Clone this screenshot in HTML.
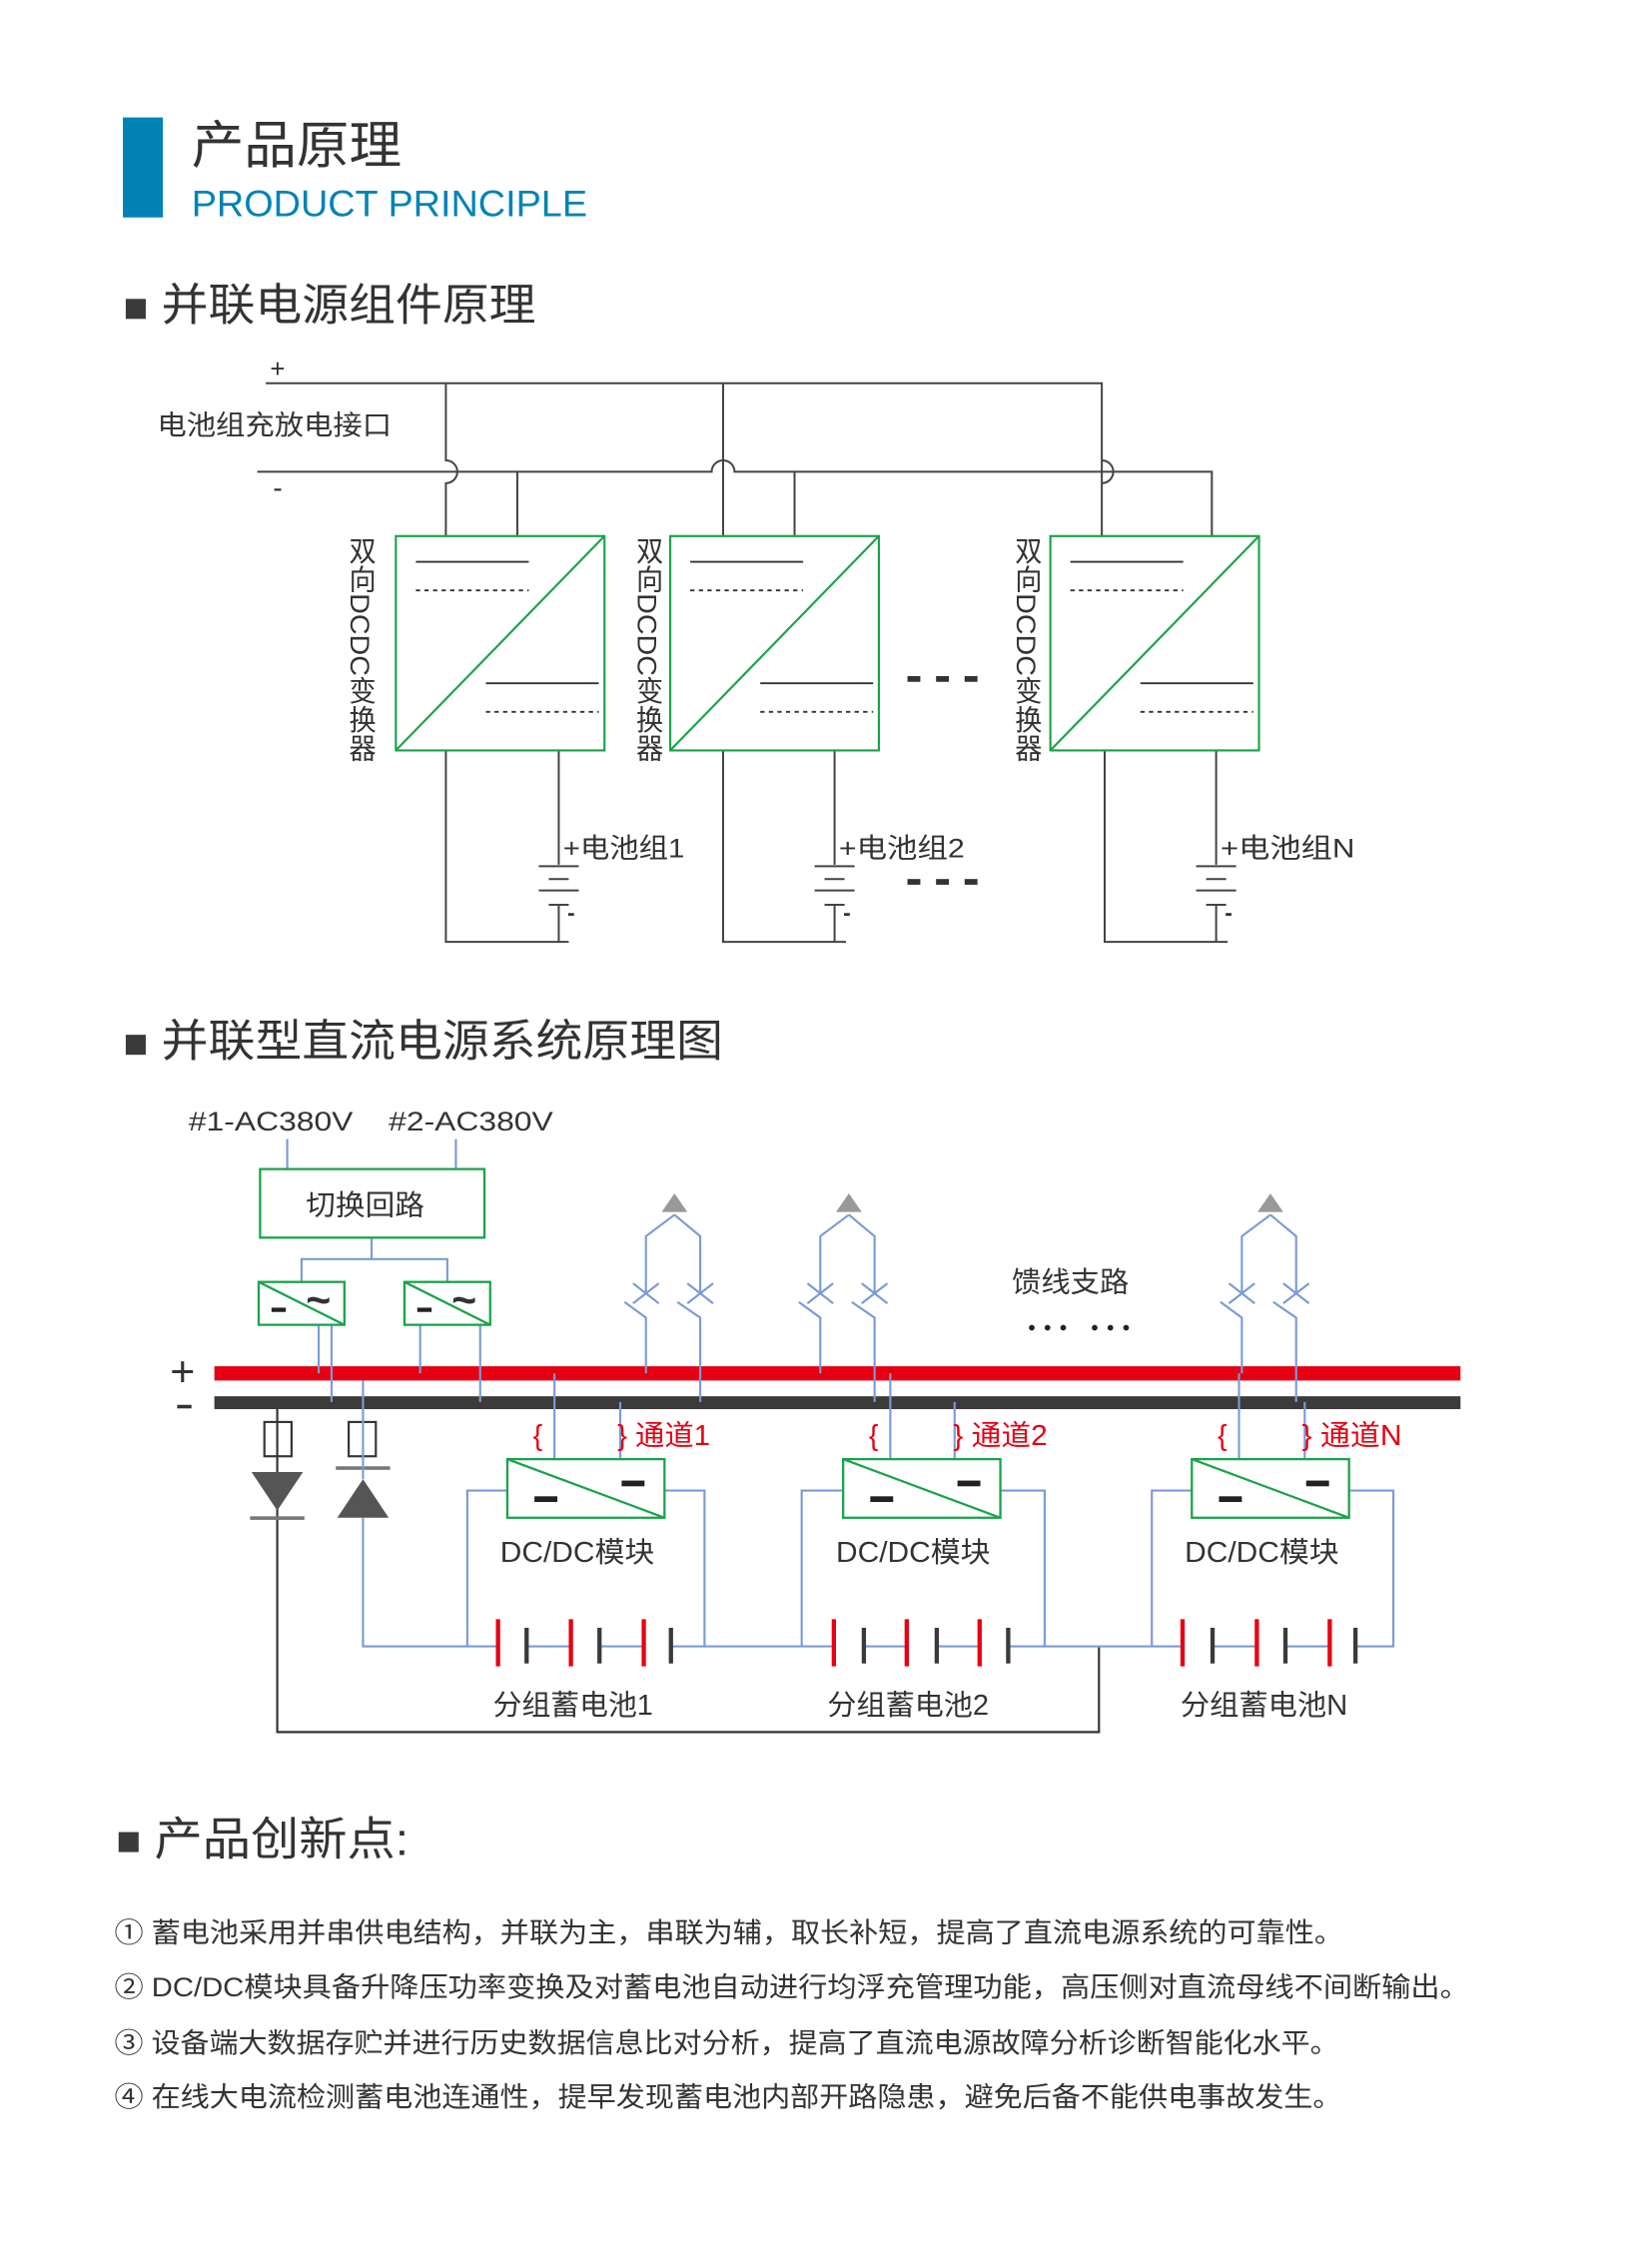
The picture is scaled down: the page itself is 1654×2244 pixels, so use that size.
<!DOCTYPE html>
<html><head><meta charset="utf-8">
<style>
html,body{margin:0;padding:0;background:#fff;}
svg{display:block;}
text{font-family:"Liberation Sans","Noto Sans CJK SC",sans-serif;fill:#333;}
.vt{writing-mode:vertical-rl;text-orientation:mixed;}
</style></head><body>
<svg width="1654" height="2244" viewBox="0 0 1156 1568" xmlns="http://www.w3.org/2000/svg">
<rect x="0" y="0" width="1156" height="1568" fill="#fff"/>
<!-- header -->
<rect x="86" y="82" width="28" height="70" fill="#0083b4"/>
<text x="134" y="114" font-size="36" fill="#3a3a3a" textLength="147" lengthAdjust="spacingAndGlyphs">产品原理</text>
<text x="134" y="151" font-size="26" style="fill:#0083b4" textLength="277" lengthAdjust="spacingAndGlyphs">PRODUCT PRINCIPLE</text>
<rect x="88" y="209" width="14" height="14" fill="#3a3a3a"/>
<text x="113" y="224" font-size="31" textLength="262" lengthAdjust="spacingAndGlyphs">并联电源组件原理</text>

<!-- top diagram -->
<g stroke="#444" stroke-width="1.4" fill="none">
<path d="M186 268 H771 V375"/>
<path d="M312 268 V322 a8 8 0 0 1 0 16 V375"/>
<path d="M506 268 V375"/>
<path d="M180 330 H498 a8 8 0 0 1 16 0 H848 V375"/>
<path d="M771 322 a8 8 0 0 1 0 16"/>
<path d="M362 330 V375 M556 330 V375"/>
</g>
<text x="189" y="264" font-size="18">+</text>
<text x="110" y="304" font-size="19" textLength="164" lengthAdjust="spacingAndGlyphs">电池组充放电接口</text>
<text x="191" y="348" font-size="20">-</text>

<g stroke="#444" stroke-width="1.4" fill="none">
<path d="M312 525 V659 H398 M391 525 V605 M391 633 V659"/>
<path d="M506 525 V659 H592 M584 525 V605 M584 633 V659"/>
<path d="M773 525 V659 H859 M851 525 V605 M851 633 V659"/>
<path d="M377 606 H405 M384 615 H398 M377 623 H405 M384 633 H398"/>
<path d="M570 606 H598 M577 615 H591 M570 623 H598 M577 633 H591"/>
<path d="M837 606 H865 M844 615 H858 M837 623 H865 M844 633 H858"/>
</g>
<g fill="none" stroke-width="1.5">
<g transform="translate(277,375)">
<rect x="0" y="0" width="146" height="150" stroke="#1aa34a"/>
<path d="M0 150 L146 0" stroke="#1aa34a"/>
<path d="M14 18 H93 M63 103 H142" stroke="#333" stroke-width="1.3"/>
<path d="M14 38 H93 M63 123 H142" stroke="#333" stroke-width="1.3" stroke-dasharray="3 3"/>
</g>
<g transform="translate(469,375)">
<rect x="0" y="0" width="146" height="150" stroke="#1aa34a"/>
<path d="M0 150 L146 0" stroke="#1aa34a"/>
<path d="M14 18 H93 M63 103 H142" stroke="#333" stroke-width="1.3"/>
<path d="M14 38 H93 M63 123 H142" stroke="#333" stroke-width="1.3" stroke-dasharray="3 3"/>
</g>
<g transform="translate(735,375)">
<rect x="0" y="0" width="146" height="150" stroke="#1aa34a"/>
<path d="M0 150 L146 0" stroke="#1aa34a"/>
<path d="M14 18 H93 M63 103 H142" stroke="#333" stroke-width="1.3"/>
<path d="M14 38 H93 M63 123 H142" stroke="#333" stroke-width="1.3" stroke-dasharray="3 3"/>
</g>
</g>
<text x="252" y="375" font-size="19" class="vt" textLength="158" lengthAdjust="spacingAndGlyphs">双向DCDC变换器</text>
<text x="453" y="375" font-size="19" class="vt" textLength="158" lengthAdjust="spacingAndGlyphs">双向DCDC变换器</text>
<text x="718" y="375" font-size="19" class="vt" textLength="158" lengthAdjust="spacingAndGlyphs">双向DCDC变换器</text>
<text x="394" y="600" font-size="19" textLength="85" lengthAdjust="spacingAndGlyphs">+电池组1</text>
<text x="587" y="600" font-size="19" textLength="88" lengthAdjust="spacingAndGlyphs">+电池组2</text>
<text x="854" y="600" font-size="19" textLength="94" lengthAdjust="spacingAndGlyphs">+电池组N</text>
<text x="397" y="644" font-size="16" font-weight="bold">-</text>
<text x="590" y="644" font-size="16" font-weight="bold">-</text>
<text x="857" y="644" font-size="16" font-weight="bold">-</text>
<g fill="#333"><rect x="635" y="473" width="9" height="4"/><rect x="655" y="473" width="9" height="4"/><rect x="675" y="473" width="9" height="4"/>
<rect x="635" y="615" width="9" height="4"/><rect x="655" y="615" width="9" height="4"/><rect x="675" y="615" width="9" height="4"/></g>

<!-- second heading -->
<rect x="88" y="724" width="14" height="14" fill="#3a3a3a"/>
<text x="113" y="739" font-size="31" textLength="393" lengthAdjust="spacingAndGlyphs">并联型直流电源系统原理图</text>

<text x="132" y="791" font-size="19" textLength="115" lengthAdjust="spacingAndGlyphs">#1-AC380V</text>
<text x="272" y="791" font-size="19" textLength="115" lengthAdjust="spacingAndGlyphs">#2-AC380V</text>

<!-- buses -->
<rect x="150" y="956" width="872" height="10" fill="#e60012"/>
<rect x="150" y="977" width="872" height="9" fill="#3d3a3a"/>
<text x="119" y="970" font-size="30">+</text>
<rect x="124" y="983" width="10" height="2.5" fill="#333"/>

<g stroke="#333" stroke-width="1.5" fill="none">
<path d="M194 986 V1212 H769 V1152"/>
<rect x="185" y="995" width="19" height="24"/>
<rect x="244" y="995" width="19" height="24" />
</g>
<path d="M176 1030 H212 L194 1057 Z" fill="#555"/>
<rect x="175" y="1061" width="38" height="2.5" fill="#777"/>
<path d="M236 1062 H272 L254 1035 Z" fill="#555"/>
<rect x="235" y="1026" width="38" height="2.5" fill="#777"/>

<g stroke="#7b9bd6" stroke-width="1.5" fill="none">
<path d="M201 797 V818 M319 797 V818"/>
<path d="M260 866 V881 M211 897 V881 H313 V897"/>
<path d="M223 927 V961 M232 927 V981 M294 927 V961 M336 927 V981"/>
<path d="M254 966 V1035 M254 1062 V1152 H348"/>
<path d="M388 961 V1021 M434 981 V1021 M623 961 V1021 M668 981 V1021 M867 961 V1021 M913 981 V1021"/>
<path d="M355 1043 H327 V1152 M465 1043 H493 V1152 H583 M590 1043 H561 V1152 M700 1043 H731 V1152 H828 M834 1043 H806 V1152 M944 1043 H975 V1152 H948"/>
<path d="M368 1152 H399 M419 1152 H450 M469 1152 H493"/>
<path d="M604 1152 H634 M655 1152 H685 M705 1152 H731"/>
<path d="M848 1152 H879 M899 1152 H930"/>
</g>
<g stroke="#7b9bd6" stroke-width="1.5" fill="none">
<g>
<path d="M472 850 L452 865 V905 M472 850 L490 865 V905"/>
<path d="M443 898 L461 912 M443 912 L461 898 M481 898 L499 912 M481 912 L499 898"/>
<path d="M437 911 L452 922 V961 M474 911 L490 922 V981"/>
</g>
<g transform="translate(122,0)">
<path d="M472 850 L452 865 V905 M472 850 L490 865 V905"/>
<path d="M443 898 L461 912 M443 912 L461 898 M481 898 L499 912 M481 912 L499 898"/>
<path d="M437 911 L452 922 V961 M474 911 L490 922 V981"/>
</g>
<g transform="translate(417,0)">
<path d="M472 850 L452 865 V905 M472 850 L490 865 V905"/>
<path d="M443 898 L461 912 M443 912 L461 898 M481 898 L499 912 M481 912 L499 898"/>
<path d="M437 911 L452 922 V961 M474 911 L490 922 V981"/>
</g>
</g>
<path d="M463 848 L472 835 L481 848 Z" fill="#999"/>
<path d="M585 848 L594 835 L603 848 Z" fill="#999"/>
<path d="M880 848 L889 835 L898 848 Z" fill="#999"/>
<text x="708" y="904" font-size="20" textLength="82" lengthAdjust="spacingAndGlyphs">馈线支路</text>
<g fill="#222"><circle cx="722" cy="929" r="2"/><circle cx="733" cy="929" r="2"/><circle cx="744" cy="929" r="2"/><circle cx="766" cy="929" r="2"/><circle cx="777" cy="929" r="2"/><circle cx="788" cy="929" r="2"/></g>

<g fill="none" stroke="#1aa34a" stroke-width="1.6">
<rect x="182" y="818" width="157" height="48"/>
<rect x="181" y="897" width="60" height="30"/><path d="M181 897 L241 927"/>
<rect x="283" y="897" width="60" height="30"/><path d="M283 897 L343 927"/>
<rect x="355" y="1021" width="110" height="41"/><path d="M355 1021 L465 1062"/>
<rect x="590" y="1021" width="110" height="41"/><path d="M590 1021 L700 1062"/>
<rect x="834" y="1021" width="110" height="41"/><path d="M834 1021 L944 1062"/>
</g>
<text x="214" y="850" font-size="20" textLength="83" lengthAdjust="spacingAndGlyphs">切换回路</text>
<g fill="#222">
<rect x="190" y="915" width="10" height="3"/><rect x="292" y="915" width="10" height="3"/>
<rect x="374" y="1047" width="16" height="4"/><rect x="435" y="1036" width="16" height="4"/>
<rect x="609" y="1047" width="16" height="4"/><rect x="670" y="1036" width="16" height="4"/>
<rect x="853" y="1047" width="16" height="4"/><rect x="914" y="1036" width="16" height="4"/>
</g>
<text x="214" y="920" font-size="30" font-weight="bold">~</text>
<text x="316" y="920" font-size="30" font-weight="bold">~</text>

<g font-size="20">
<text x="373" y="1011" style="fill:#e60012">{</text><text x="432" y="1011" style="fill:#e60012" textLength="65" lengthAdjust="spacingAndGlyphs">} 通道1</text>
<text x="608" y="1011" style="fill:#e60012">{</text><text x="667" y="1011" style="fill:#e60012" textLength="66" lengthAdjust="spacingAndGlyphs">} 通道2</text>
<text x="852" y="1011" style="fill:#e60012">{</text><text x="911" y="1011" style="fill:#e60012" textLength="70" lengthAdjust="spacingAndGlyphs">} 通道N</text>
</g>
<g font-size="20">
<text x="350" y="1093" textLength="108" lengthAdjust="spacingAndGlyphs">DC/DC模块</text>
<text x="585" y="1093" textLength="108" lengthAdjust="spacingAndGlyphs">DC/DC模块</text>
<text x="829" y="1093" textLength="108" lengthAdjust="spacingAndGlyphs">DC/DC模块</text>
<text x="345" y="1200" textLength="112" lengthAdjust="spacingAndGlyphs">分组蓄电池1</text>
<text x="579" y="1200" textLength="113" lengthAdjust="spacingAndGlyphs">分组蓄电池2</text>
<text x="826" y="1200" textLength="117" lengthAdjust="spacingAndGlyphs">分组蓄电池N</text>
</g>
<g fill="#e60012">
<rect x="347" y="1133" width="3" height="33"/><rect x="398" y="1133" width="3" height="33"/><rect x="449" y="1133" width="3" height="33"/>
<rect x="582" y="1133" width="3" height="33"/><rect x="633" y="1133" width="3" height="33"/><rect x="684" y="1133" width="3" height="33"/>
<rect x="826" y="1133" width="3" height="33"/><rect x="878" y="1133" width="3" height="33"/><rect x="929" y="1133" width="3" height="33"/>
</g>
<g fill="#3a3a3a">
<rect x="367" y="1139" width="3" height="25"/><rect x="418" y="1139" width="3" height="25"/><rect x="468" y="1139" width="3" height="25"/>
<rect x="603" y="1139" width="3" height="25"/><rect x="654" y="1139" width="3" height="25"/><rect x="704" y="1139" width="3" height="25"/>
<rect x="847" y="1139" width="3" height="25"/><rect x="898" y="1139" width="3" height="25"/><rect x="947" y="1139" width="3" height="25"/>
</g>

<rect x="83" y="1282" width="14" height="14" fill="#3a3a3a"/>
<text x="108" y="1298" font-size="32" textLength="178" lengthAdjust="spacingAndGlyphs">产品创新点:</text>
<g font-size="19">
<text x="80" y="1359" textLength="860" lengthAdjust="spacingAndGlyphs">① 蓄电池采用并串供电结构，并联为主，串联为辅，取长补短，提高了直流电源系统的可靠性。</text>
<text x="80" y="1397" textLength="948" lengthAdjust="spacingAndGlyphs">② DC/DC模块具备升降压功率变换及对蓄电池自动进行均浮充管理功能，高压侧对直流母线不间断输出。</text>
<text x="80" y="1436" textLength="857" lengthAdjust="spacingAndGlyphs">③ 设备端大数据存贮并进行历史数据信息比对分析，提高了直流电源故障分析诊断智能化水平。</text>
<text x="80" y="1474" textLength="859" lengthAdjust="spacingAndGlyphs">④ 在线大电流检测蓄电池连通性，提早发现蓄电池内部开路隐患，避免后备不能供电事故发生。</text>
</g>
</svg>
</body></html>
